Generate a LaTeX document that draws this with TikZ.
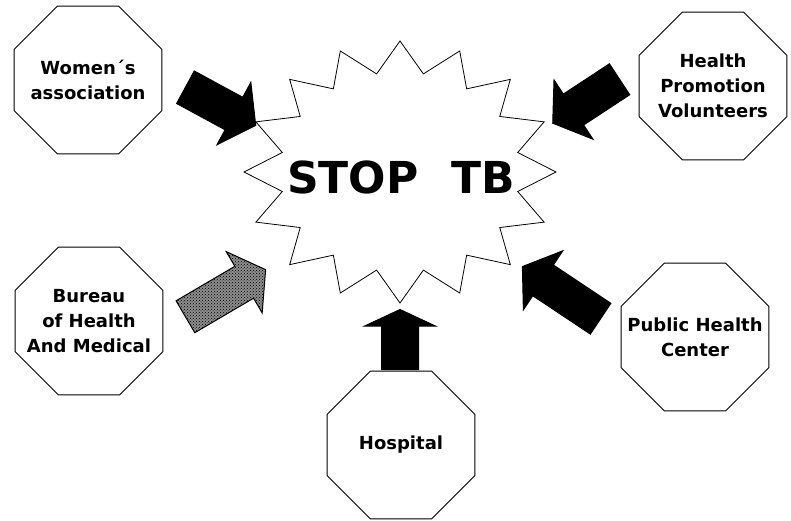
\documentclass[tikz,border=0pt]{standalone}
\usepackage{fontspec}
\setmainfont{DejaVu Sans}
\usepackage{tikz}
\usetikzlibrary{shapes.geometric,shapes.arrows,patterns}

\begin{document}
\begin{tikzpicture}[x=1pt,y=-1pt,
  octa/.style={draw,regular polygon,regular polygon sides=8,minimum size=160pt,inner sep=0pt,line width=1pt},
  octatext/.style={font=\bfseries\fontsize{18}{25}\selectfont,align=center},
  blockarrow/.style={single arrow,draw,fill=black,line width=1pt,inner xsep=0pt,inner ysep=18pt,
    single arrow head extend=17pt,single arrow tip angle=110,anchor=tail},
  dotarrow/.style={blockarrow,fill=none,preaction={fill=black!45},pattern=crosshatch dots,pattern color=black}]
\useasboundingbox (0,0) rectangle (791,521);

% Star in the middle
\draw[line width=0.8pt,shift={(400,172)}] (90:156 and 131)
  \foreach \a in {0,22.5,...,337.5} { -- (\a+101.25:120 and 100) -- (\a+112.5:156 and 131) } -- cycle;
\node[font=\bfseries\fontsize{44}{44}\selectfont] (stop) at (401,177) {STOP\hspace{0.75em}TB};

% Partners round the star
\node[octa,label={[octatext]center:Women´s\\association}] (wom) at (88,80) {};
\node[octa,label={[octatext]center:Health\\Promotion\\Volunteers}] (hpv) at (713,86) {};
\node[octa,label={[octatext]center:Bureau\\of Health\\And Medical}] (bur) at (89,321) {};
\node[octa,label={[octatext]center:Public Health\\Center}] (phc) at (695,337) {};
\node[octa,label={[octatext]center:Hospital}] (hos) at (401,445) {};

% Arrows pointing at the star
\node[blockarrow,minimum height=80pt,rotate=-28.5] (arrwom) at (185,87) {};
\node[blockarrow,minimum height=80pt,rotate=-146.7] (arrhpv) at (620,79) {};
\node[dotarrow,minimum height=93pt,rotate=30.4] (arrbur) at (185,317) {};
\node[blockarrow,minimum height=94pt,rotate=146.3] (arrphc) at (601,319) {};
\node[blockarrow,minimum height=60pt,rotate=90,single arrow tip angle=130] (arrhos) at (400,370) {};

\end{tikzpicture}
\end{document}
